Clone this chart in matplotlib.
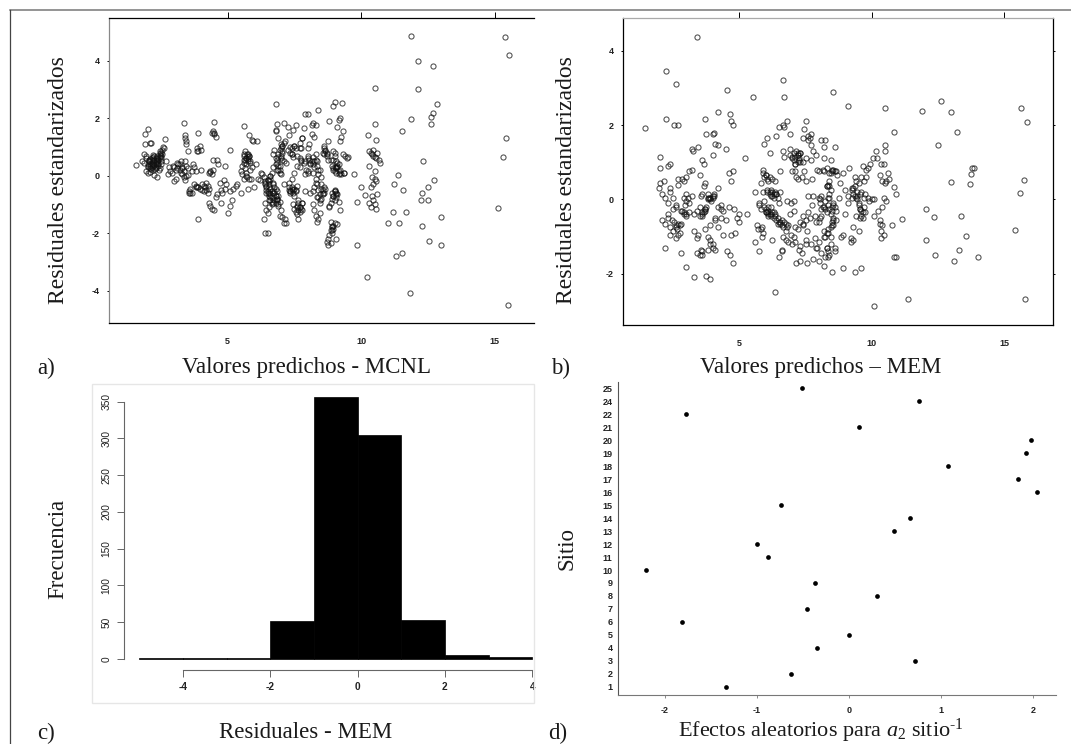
import matplotlib
matplotlib.use('Agg')
import matplotlib.pyplot as plt
from matplotlib.lines import Line2D
from matplotlib.patches import Rectangle

W, H = 1071, 744
SERIF = 'Liberation Serif'
SANS = 'Liberation Sans'

pred_mcnl = [
    1.55, 1.9, 2.03, 2.12, 1.9, 2.1, 1.85, 1.8, 1.85, 1.95, 2.05, 2.15,
    2.0, 2.1, 2.2, 2.3, 2.4, 2.5, 2.55, 2.05, 2.15, 2.25, 2.35, 2.45,
    1.95, 2.0, 2.1, 2.2, 2.3, 2.4, 2.6, 2.65, 2.25, 2.35, 2.4, 2.5,
    2.2, 2.3, 2.45, 2.55, 2.1, 2.15, 2.25, 2.3, 2.35, 2.45, 2.2, 2.5,
    2.75, 2.8, 2.9, 2.95, 3.05, 3.1, 3.2, 3.25, 3.3, 3.35, 3.4, 3.45,
    3.0, 3.1, 3.2, 3.3, 3.4, 3.5, 3.55, 3.6, 3.65, 3.7, 3.75, 3.8,
    3.35, 3.4, 3.42, 3.45, 3.5, 3.85, 3.9, 3.95, 4.0, 3.6, 3.8, 3.9,
    3.85, 3.95, 4.05, 4.1, 4.15, 4.2, 4.25, 4.3, 4.35, 4.4, 4.45, 4.5,
    4.4, 4.45, 4.5, 4.55, 4.6, 4.65, 4.7, 4.75, 4.8, 4.85, 4.9, 4.95,
    4.3, 4.35, 4.42, 4.48, 4.55, 4.6, 4.75, 4.9, 5.1, 5.15, 5.1, 5.0,
    5.1, 5.2, 5.3, 5.35, 5.5, 5.6, 5.6, 5.55, 5.6, 5.65, 5.7, 5.75,
    5.5, 5.55, 5.6, 5.65, 5.7, 5.75, 5.8, 5.85, 5.9, 5.7, 5.8, 5.75,
    5.95, 6.1, 6.05, 6.2, 6.0, 5.75, 5.8, 5.9, 6.15, 6.25, 6.3, 6.35,
    6.4, 6.45, 6.5, 6.55, 6.6, 6.65, 6.4, 6.45, 6.5, 6.55, 6.6, 6.65,
    6.35, 6.4, 6.45, 6.5, 6.55, 6.6, 6.65, 6.7, 6.75, 6.8, 6.85, 6.9,
    6.5, 6.55, 6.6, 6.7, 6.75, 6.8, 6.85, 6.9, 6.95, 7.0, 7.05, 7.1,
    6.7, 6.75, 6.8, 6.85, 6.9, 6.95, 7.0, 7.05, 7.1, 7.15, 6.8, 6.85,
    6.9, 6.95, 7.0, 7.05, 7.1, 7.15, 7.2, 6.95, 7.0, 7.05, 7.1, 6.8,
    7.2, 7.25, 7.3, 7.35, 7.4, 7.45, 7.5, 7.55, 7.6, 7.65, 7.7, 7.75,
    7.3, 7.35, 7.4, 7.45, 7.5, 7.55, 7.6, 7.65, 7.7, 7.75, 7.8, 7.85,
    7.25, 7.3, 7.35, 7.4, 7.5, 7.6, 7.7, 7.8, 7.9, 8.0, 7.45, 7.55,
    7.4, 7.5, 7.6, 7.7, 7.8, 7.9, 8.0, 8.1, 8.2, 7.7, 7.8, 7.9,
    7.9, 8.0, 8.1, 8.2, 8.3, 8.4, 8.0, 8.05, 8.15, 8.25, 8.3, 8.35,
    8.2, 8.25, 8.3, 8.35, 8.4, 8.45, 8.5, 8.55, 8.6, 8.65, 8.7, 8.75,
    8.2, 8.25, 8.3, 8.35, 8.4, 8.45, 8.5, 8.55, 8.6, 8.3, 8.35, 8.4,
    8.6, 8.65, 8.7, 8.75, 8.8, 8.85, 8.9, 8.95, 8.7, 8.75, 8.8, 8.85,
    8.8, 8.85, 8.9, 8.95, 9.0, 9.05, 9.1, 8.85, 8.9, 8.95, 9.0, 8.8,
    8.95, 9.0, 9.05, 9.1, 9.15, 9.2, 9.25, 9.3, 9.35, 9.4, 9.5, 9.45,
    9.0, 9.05, 9.1, 9.15, 9.2, 9.25, 9.3, 9.1, 9.15, 9.2, 8.45, 8.9,
    8.0, 8.15, 8.2, 8.25, 8.6, 8.95, 9.0, 9.05, 9.1, 9.15, 9.2, 9.35,
    10.3, 10.35, 10.4, 10.45, 10.5, 10.55, 10.6, 10.65, 10.7, 10.45, 10.5, 10.55,
    10.4, 10.45, 10.5, 10.55, 10.6, 10.35, 10.3, 10.4, 10.45, 10.5, 10.3, 10.35,
    11.87, 15.4, 15.55, 12.11, 12.67, 10.51, 12.13, 6.8, 12.83, 9.29, 9.02, 8.95,
    15.44, 15.31, 15.14, 15.49, 11.81, 10.21, 9.85, 12.54, 12.99, 11.3, 11.52, 11.0,
    11.42, 11.18, 11.68, 12.29, 13.0, 12.73, 12.49, 12.29, 12.22, 12.49, 12.32, 11.22,
    11.37, 11.55, 11.52, 11.87, 12.69, 12.63, 12.6, 10.51, 10.26, 10.57, 9.85, 10.14,
    9.73, 10.01, 3.9, 6.4, 4.5, 3.4,
    # second pass over the dense clusters
    1.95, 2.0, 2.05, 2.1, 2.15, 2.2, 2.25, 2.3, 2.35, 2.4, 2.45, 2.5,
    2.0, 2.08, 2.12, 2.18, 2.22, 2.28, 2.33, 2.38, 2.42, 2.48, 2.52, 2.58,
    2.7, 2.85, 3.0, 3.05, 3.15, 3.25, 3.3, 3.35, 3.45, 3.5, 3.55, 3.65,
    3.75, 3.8, 3.85, 3.9, 4.0, 4.05, 4.1, 4.2, 4.25, 4.3, 4.35, 4.45,
    5.6, 5.65, 5.7, 5.72, 5.75, 5.78, 5.82, 5.85, 5.68, 5.72, 5.62, 5.88,
    6.4, 6.45, 6.5, 6.5, 6.55, 6.55, 6.6, 6.6, 6.65, 6.65, 6.7, 6.7,
    6.7, 6.75, 6.75, 6.8, 6.8, 6.85, 6.85, 6.9, 6.9, 6.6, 6.55, 6.45,
    6.8, 6.85, 6.9, 6.95, 7.0, 7.05, 7.1, 6.85, 6.9, 6.95, 7.0, 7.05,
    7.3, 7.35, 7.4, 7.45, 7.5, 7.55, 7.35, 7.4, 7.45, 7.5, 7.6, 7.65,
    7.65, 7.7, 7.75, 7.8, 7.55, 7.6, 7.7, 7.75, 7.85, 7.95, 8.0, 8.05,
    8.1, 8.15, 8.2, 8.25, 8.3, 8.35, 8.4, 8.45, 8.5, 8.55, 8.4, 8.45,
    8.5, 8.55, 8.6, 8.65, 8.7, 8.75, 8.9, 8.95, 9.0, 9.05, 9.0, 9.05,
    8.95, 9.0, 9.05, 9.1, 9.15, 9.2, 8.95, 9.0, 9.05, 8.85, 8.9, 8.9,
]
resid_mcnl = [
    0.36, 1.45, 1.62, 1.13, 1.1, 1.13, 0.75, 0.52, 0.45, 0.68, 0.55, 0.4,
    0.3, 0.25, 0.35, 0.45, 0.55, 0.7, 0.9, 0.5, 0.62, 0.7, 0.62, 0.8,
    0.15, 0.08, 0.12, 0.2, 0.28, 0.32, 0.95, 1.27, 0.02, -0.05, 0.4, 0.5,
    0.5, 0.6, 0.65, 0.75, 0.35, 0.45, 0.55, 0.42, 0.5, 0.85, 0.72, 0.42,
    0.05, 0.3, 0.1, 0.35, -0.1, 0.45, 0.2, 0.5, 0.3, 0.15, 0.5, 0.0,
    -0.2, 0.28, 0.4, 0.05, -0.15, 0.02, -0.55, -0.45, -0.6, 0.42, 0.3, 0.18,
    1.85, 1.4, 1.2, 1.1, 0.87, 0.85, 1.5, 1.05, 0.9, -0.6, -0.35, -0.4,
    -0.38, -0.45, -0.3, -0.55, -0.4, -0.5, -0.35, 0.1, 0.15, 0.05, 0.2, 1.88,
    1.5, 1.55, 1.45, 1.35, 0.55, 0.4, -0.25, -0.5, -0.6, -0.15, -0.45, -0.3,
    -0.95, -1.05, -1.15, -1.2, -0.75, -0.65, -0.95, 0.35, 0.9, -0.85, -1.05, -1.3,
    -0.55, -0.45, -0.35, -0.3, -0.6, 1.72, 0.55, 0.35, 0.75, 0.85, 0.6, 0.5,
    0.15, 0.05, -0.1, 0.25, 0.4, 0.65, 0.7, 0.45, 0.3, 0.0, -0.1, 0.75,
    1.2, 1.22, 0.4, -0.15, -0.4, -0.45, 1.4, 1.25, -0.1, 0.1, 0.05, -0.05,
    -0.2, -0.35, -0.55, -0.7, -0.85, -1.0, -0.95, -1.2, -1.3, -1.1, 0.0, 0.1,
    -1.5, -0.3, -0.5, -0.15, -0.4, -0.65, -0.9, -0.25, -0.6, -0.45, -0.8, -1.05,
    -2.0, -0.6, -0.75, 0.3, -0.55, -0.7, -0.85, -1.0, -0.9, -1.2, -1.45, -1.65,
    0.75, 0.9, 0.6, 0.45, 0.65, 0.35, 1.1, 0.8, 0.5, 1.2, 1.55, 1.8,
    1.3, 0.2, 0.05, 0.55, -0.3, -1.5, -1.65, -1.4, 0.7, 1.05, 1.85, 1.6,
    0.45, 1.7, 1.4, 1.0, 0.75, -0.5, -0.45, -0.55, -1.35, -1.5, 0.6, 0.95,
    -0.5, -0.6, -0.45, -1.0, -1.15, -1.25, -1.1, -0.85, 0.3, 0.55, 1.3, 1.65,
    0.9, -0.25, -0.55, 0.75, 1.05, 0.35, -1.25, -0.95, -0.55, 0.15, 1.6, 1.75,
    -0.1, 0.1, -0.35, -1.1, -1.2, 0.05, 0.1, -0.6, 0.4, 0.95, 1.3, 2.15,
    0.5, 0.7, 0.4, 1.85, 1.75, 2.3, 0.95, 1.1, 1.45, 1.35, 0.55, 0.35,
    -0.55, -0.4, -0.25, -0.75, 0.05, 0.2, -0.05, -0.5, -0.6, -0.45, 0.8, 1.2,
    -1.0, -1.2, -1.4, -1.6, -1.5, -1.3, -0.8, -0.65, -0.4, 0.75, 0.5, 0.2,
    1.05, 0.9, -2.3, -2.2, -2.05, -2.35, -1.9, -1.75, 0.75, -2.4, -1.1, 0.55,
    1.9, -1.6, -1.8, -1.85, -1.65, -2.2, -1.7, -0.95, -0.8, -0.7, -0.55, -1.05,
    0.85, 0.7, 0.5, 0.3, 0.15, 0.1, 0.05, 0.75, 0.1, 0.7, 0.65, 0.6,
    -0.55, -0.75, -0.65, -0.9, 1.2, 1.35, 1.55, 1.7, 1.95, 2.0, -0.85, 0.35,
    2.15, 1.75, 0.65, 0.5, 0.75, 0.25, 0.15, 0.3, 0.45, 0.05, -1.2, 0.1,
    0.85, 0.8, 0.75, 0.7, 0.65, 0.6, 0.78, 0.55, 0.45, 0.9, -0.1, -0.2,
    -0.7, -0.85, -1.0, -1.15, -0.65, -1.1, 0.35, -0.05, -0.3, 0.15, -0.95, -0.4,
    4.85, 4.83, 4.21, 4.0, 3.83, 3.05, 3.03, 2.49, 2.48, 2.52, 2.56, 2.43,
    1.31, 0.66, -1.13, -4.49, -4.07, -3.53, -2.41, -2.27, -2.42, -2.8, -2.71, -1.64,
    -1.66, -1.28, -1.27, -1.76, -1.43, -0.16, -0.38, -0.59, -0.86, -0.83, 0.52, -0.29,
    0.02, -0.5, 1.55, 1.98, 2.17, 2.06, 1.79, 1.79, 1.43, 1.24, -0.91, -0.67,
    0.06, -0.38, -1.52, -2.0, 1.5, 1.3,
    # second pass over the dense clusters
    0.62, 0.42, 0.5, 0.58, 0.3, 0.42, 0.38, 0.5, 0.68, 0.58, 0.72, 0.6,
    0.35, 0.4, 0.22, 0.55, 0.65, 0.22, 0.3, 0.45, 0.2, 0.28, 0.8, 1.0,
    0.5, 0.15, 0.3, 0.2, 0.42, 0.1, 0.25, -0.05, 0.35, 0.25, -0.6, 0.15,
    -0.3, -0.4, 0.95, 0.85, 0.2, -0.5, -0.35, -0.25, -0.6, -0.45, 0.12, 0.55,
    0.68, 0.55, 0.62, 0.75, 0.58, 0.68, 0.52, 0.2, 0.1, -0.05, 0.45, -0.12,
    -0.25, -0.4, -0.15, -0.6, -0.3, -0.85, -0.1, -0.45, -0.55, -0.75, -0.3, -0.95,
    -0.6, -0.4, -0.85, -0.7, -0.95, -0.55, -0.8, -0.7, 0.2, 0.0, -0.2, -0.6,
    0.4, 0.55, 0.75, 0.9, 0.95, 1.05, 1.15, 0.2, 0.35, 0.1, 0.6, 0.85,
    -0.4, -0.55, -0.4, -0.6, -0.7, -0.5, 0.8, 0.95, 0.65, 1.05, -1.05, -1.2,
    -0.95, -1.1, -1.15, -0.95, 0.95, 0.7, 1.15, 0.5, 0.45, 0.2, 0.6, 0.55,
    0.45, 0.5, 0.1, 0.3, -0.1, -0.3, -0.5, -0.65, -0.45, -0.6, -0.75, -0.95,
    -0.3, 0.8, 0.95, 0.85, 0.7, 0.55, -0.6, -0.7, -0.85, -0.65, -0.5, -0.6,
    0.2, 0.3, 0.25, 0.35, 0.4, 0.2, 0.55, 0.8, 0.1, -1.9, -1.75, -2.0,
]

# panel b
pred_mem = [
    1.45, 3.4, 2.25, 2.6, 2.25, 2.55, 2.7, 2.0, 4.55, 5.5, 6.65, 6.7,
    8.55, 9.1, 10.5, 11.9, 12.6, 13.0, 15.65, 15.85, 13.2, 12.5, 15.75, 13.0,
    13.7, 13.75, 13.8, 15.6, 12.05, 12.35, 13.35, 15.4, 13.85, 13.55, 12.05, 13.3,
    12.4, 13.1, 14.0, 15.8, 11.35, 10.1, 6.35, 9.6, 9.35, 8.9, 8.5, 8.2,
    10.85, 10.5, 10.85, 11.15, 10.75, 10.9, 10.85, 10.9, 4.2, 3.7, 4.05, 3.45,
    3.0, 3.3, 3.75, 3.9, 4.0, 4.1, 4.65, 4.7, 4.75, 5.2, 3.2, 3.25,
    4.0, 3.75, 4.2, 4.5, 3.6, 3.65, 4.6, 2.0, 2.15, 1.95, 2.3, 2.0,
    2.1, 2.2, 2.3, 2.4, 2.5, 2.6, 2.7, 2.8, 2.9, 3.0, 3.1, 3.2,
    2.1, 2.2, 2.3, 2.4, 2.5, 2.6, 2.7, 2.8, 2.9, 3.0, 3.1, 3.2,
    2.2, 2.3, 2.4, 2.5, 2.6, 2.7, 2.8, 2.9, 3.0, 3.1, 2.4, 2.6,
    3.3, 3.4, 3.5, 3.55, 3.6, 3.7, 3.8, 3.9, 4.0, 4.05, 3.3, 3.45,
    3.4, 3.5, 3.6, 3.7, 3.8, 3.9, 4.0, 4.1, 4.2, 4.3, 4.4, 4.5,
    3.6, 3.7, 3.8, 3.9, 4.0, 4.1, 4.2, 4.3, 4.4, 4.6, 4.7, 4.8,
    3.4, 3.5, 3.55, 3.6, 4.75, 4.9, 5.0, 4.85, 4.55, 4.65, 2.4, 2.85,
    3.0, 3.5, 3.65, 3.8, 4.2, 4.3, 4.7, 4.75, 5.0, 5.3, 3.9, 4.1,
    5.6, 5.65, 5.75, 5.8, 5.9, 5.95, 6.0, 6.05, 6.1, 6.15, 6.2, 6.25,
    5.75, 5.8, 5.85, 5.9, 6.0, 6.05, 6.1, 6.15, 6.2, 6.25, 6.3, 6.35,
    5.75, 5.8, 5.9, 6.0, 6.1, 6.2, 6.3, 6.35, 6.4, 6.45, 6.5, 6.55,
    5.6, 5.7, 5.85, 5.95, 6.05, 6.15, 6.25, 6.4, 6.5, 6.55, 6.6, 6.65,
    6.5, 6.6, 6.65, 6.7, 6.75, 6.8, 6.85, 6.9, 6.95, 7.0, 7.05, 7.1,
    6.6, 6.7, 6.8, 6.9, 7.0, 7.1, 7.2, 7.3, 7.4, 7.5, 7.6, 7.7,
    6.9, 7.0, 7.05, 7.1, 7.15, 7.2, 7.25, 7.3, 7.35, 7.4, 7.45, 7.5,
    6.9, 7.0, 7.1, 7.2, 7.3, 7.4, 7.5, 7.6, 7.7, 7.8, 7.9, 8.0,
    7.15, 7.25, 7.35, 7.45, 7.55, 7.65, 7.75, 7.85, 7.95, 8.05, 8.15, 8.25,
    7.2, 7.3, 7.4, 7.5, 7.55, 7.6, 7.7, 7.8, 7.9, 8.0, 8.1, 8.2,
    7.5, 7.6, 7.65, 7.7, 7.75, 7.8, 7.85, 7.9, 7.95, 8.0, 8.05, 8.1,
    8.0, 8.1, 8.2, 8.25, 8.3, 8.35, 8.4, 8.45, 8.5, 8.55, 8.6, 8.65,
    8.0, 8.1, 8.2, 8.25, 8.3, 8.35, 8.4, 8.45, 8.5, 8.55, 8.6, 8.65,
    8.15, 8.2, 8.3, 8.35, 8.4, 8.45, 8.5, 8.55, 8.6, 8.7, 8.75, 8.85,
    8.8, 8.9, 9.0, 9.1, 9.15, 9.2, 9.25, 9.3, 9.35, 9.4, 9.45, 9.5,
    8.9, 9.0, 9.1, 9.2, 9.25, 9.3, 9.35, 9.4, 9.5, 9.55, 9.6, 9.65,
    9.5, 9.55, 9.6, 9.7, 9.75, 9.8, 9.85, 9.9, 9.95, 10.0, 10.05, 10.1,
    10.15, 10.2, 10.3, 10.35, 10.4, 10.45, 10.5, 10.55, 10.6, 10.65, 10.3, 10.4,
    10.3, 10.35, 10.4, 10.45, 10.35, 10.45, 10.5, 10.55, 10.1, 10.25, 9.3, 9.55,
    # second pass over the dense clusters
    2.45, 2.55, 2.6, 2.65, 2.7, 2.75, 2.75, 2.85, 2.9, 2.95, 3.0, 3.05,
    3.6, 3.65, 3.7, 3.75, 3.8, 3.85, 3.9, 3.95, 4.0, 4.05, 3.6, 3.7,
    5.9, 5.95, 6.0, 6.05, 6.1, 6.15, 6.2, 6.25, 6.3, 6.35, 6.4, 6.45,
    5.95, 6.0, 6.05, 6.1, 6.15, 6.2, 6.25, 6.3, 6.35, 6.4, 6.45, 6.5,
    6.55, 6.6, 6.65, 6.7, 6.75, 6.8, 6.55, 6.65, 6.75, 6.85, 6.95, 7.05,
    7.05, 7.1, 7.15, 7.2, 7.25, 7.3, 7.05, 7.1, 7.2, 7.3, 7.4, 7.5,
    8.05, 8.1, 8.2, 8.25, 8.3, 8.35, 8.4, 8.45, 8.5, 8.55, 8.6, 8.65,
    8.2, 8.25, 8.3, 8.35, 8.4, 8.45, 8.5, 8.55, 8.3, 8.35, 8.4, 8.45,
    8.4, 8.45, 8.5, 8.55, 8.6, 8.3, 8.35, 9.25, 9.3, 9.35, 9.4, 9.45,
    9.45, 9.5, 9.55, 9.6, 9.65, 9.7, 9.6, 9.65, 9.7, 9.75, 9.8, 9.85,
]
resid_mem = [
    1.93, 4.37, 3.46, 3.1, 2.16, 2.0, 2.0, 1.15, 2.95, 2.75, 3.2, 2.75,
    2.88, 2.5, 2.47, 2.37, 2.65, 2.35, 2.47, 2.08, 1.8, 1.47, 0.52, 0.47,
    0.42, 0.68, 0.85, 0.16, -0.27, -0.47, -0.44, -0.82, 0.85, -0.98, -1.08, -1.35,
    -1.5, -1.65, -1.55, -2.67, -2.67, -2.87, -2.5, -1.85, -1.95, -1.85, -1.95, -1.8,
    1.8, 1.45, 0.33, -0.53, -0.7, 0.15, -1.55, -1.55, 2.35, 2.15, 1.78, 1.4,
    -1.83, -2.1, -2.05, -2.15, 1.75, 1.5, 2.3, 2.1, 2.0, 1.1, 1.35, 1.3,
    1.2, 1.75, 1.45, 1.35, 1.05, 0.95, 0.7, 0.85, 0.5, 0.3, 0.9, 0.45,
    0.15, 0.05, -0.1, 0.3, 0.05, -0.2, 0.4, -0.3, 0.5, -0.05, 0.75, 0.8,
    -0.55, -0.65, -0.5, -0.75, -0.85, -0.7, -0.95, -0.65, -0.4, -0.45, -0.35, 0.1,
    -1.3, -0.4, 0.2, -0.25, -0.15, 0.55, -1.45, 0.05, 0.15, -0.1, -0.95, -1.05,
    -0.4, -0.3, -0.2, 0.1, 0.15, 0.45, 0.0, 0.05, 0.1, 0.15, -0.85, -0.95,
    -1.05, -0.45, -0.35, -0.25, -1.35, -1.1, -1.2, -0.5, -0.2, -0.25, -0.3, -0.55,
    -1.5, -0.8, -1.0, -1.2, -1.3, -1.35, -0.75, -0.5, -0.95, -0.2, 0.5, -0.25,
    -1.45, -1.5, -1.35, -1.4, -1.7, -0.5, -0.6, -0.9, -1.4, -1.5, 0.95, 0.55,
    0.6, 0.65, 0.35, 0.05, 0.3, -0.15, -0.95, 0.75, -0.4, -0.4, -0.7, -0.55,
    0.2, -0.7, -0.15, -0.8, 0.8, -0.05, 0.65, 0.25, -0.4, 0.6, 0.1, 0.55,
    -1.4, 0.45, -0.75, 0.2, -0.35, 0.2, -0.45, 0.15, -0.2, 0.2, -0.35, 0.5,
    -0.1, -0.25, -0.9, -0.35, -0.2, -0.4, 0.05, -0.45, 0.15, -0.5, -0.1, -0.6,
    -1.15, -0.8, -1.0, 1.5, 1.65, 1.25, -1.1, 1.7, 1.95, 0.2, -0.55, 2.0,
    -1.55, -1.35, 1.3, 1.15, -0.65, 2.1, -0.7, 1.2, -0.95, -1.2, -1.0, 0.75,
    -1.4, 1.95, -0.05, 1.35, 1.15, -1.15, 0.55, 1.25, 1.65, 2.1, 1.6, 1.75,
    1.75, 1.1, -0.3, 0.95, 0.6, 1.2, 1.05, -0.6, 0.6, -0.65, 1.9, 1.1,
    -0.4, 0.75, -0.75, 1.25, -1.25, -0.7, -1.2, 1.7, 1.45, 0.1, 1.2, -1.65,
    -1.7, -1.35, -1.45, 0.75, -1.7, 1.65, 0.55, -0.45, -1.3, -0.5, 0.8, 1.6,
    -0.8, -1.65, 1.0, -1.1, -0.85, -0.35, -1.2, -1.6, -1.3, 0.05, -1.45, 1.4,
    0.5, 0.1, -0.5, 1.05, -0.15, 1.3, -1.05, -0.6, 0.8, -1.15, 0.0, -0.45,
    0.75, 1.6, 1.1, -1.55, -1.3, -0.9, 0.7, 1.05, 0.8, -0.15, 1.4, -0.3,
    -0.6, 0.1, -1.0, -0.25, 0.35, -0.8, 0.05, -1.0, -0.7, -0.1, -1.3, 0.75,
    -0.2, 0.75, 0.85, -1.55, 0.35, -0.75, -0.2, -0.55, -1.4, 0.65, 0.05, -1.0,
    0.45, 0.7, -0.4, 0.1, 0.85, -1.15, 0.3, -0.75, 0.6, -0.45, 0.2, 0.45,
    -0.95, 0.25, -0.1, -1.05, 0.05, -1.1, 0.1, 0.5, -0.85, -0.25, 0.6, 0.9,
    -0.1, -0.5, 0.2, 0.05, -0.35, 0.8, 0.05, -0.05, 0.95, 0.0, 1.1, -0.45,
    1.3, 1.1, -0.65, 0.95, -0.7, 0.05, 0.45, -0.05, 0.7, 0.55, 0.65, -0.2,
    -0.55, -0.85, 0.5, -0.95, -1.05, 0.95, 1.3, 0.5, 0.0, -0.3, 0.3, 0.15,
    # second pass over the dense clusters
    -0.55, -0.6, -0.75, -0.8, -0.65, -0.9, -0.7, -0.3, -0.35, -0.15, -0.4, 0.05,
    -0.45, -0.35, -0.3, -0.2, 0.15, 0.05, 0.0, -0.05, 0.05, 0.1, -0.4, -0.25,
    0.7, 0.6, 0.65, 0.55, 0.5, 0.2, 0.25, 0.1, 0.15, 0.2, 0.15, 0.05,
    -0.2, -0.25, -0.35, -0.3, -0.4, -0.45, -0.35, -0.5, -0.4, -0.55, -0.65, -0.6,
    -0.65, -0.7, -0.75, -0.6, -0.85, -0.75, 0.75, -1.0, -1.1, -1.15, -0.1, -0.05,
    1.25, 1.15, 1.3, 1.2, 1.1, 1.0, 1.05, 0.95, 1.0, 1.25, -0.45, -0.55,
    -0.1, -0.25, -0.2, -0.05, -0.35, -0.15, -0.25, -0.4, -0.3, -0.5, -0.2, -0.55,
    -0.85, -1.0, -1.3, -1.4, -1.5, -1.2, -0.6, -0.7, -0.9, 0.05, 0.15, 0.25,
    0.5, 0.7, 0.75, 0.8, 0.75, 0.35, 0.4, 0.25, 0.15, 0.35, 0.05, 0.1,
    0.0, -0.15, -0.25, -0.3, -0.35, -0.2, -0.45, -0.5, 0.5, 0.15, 0.6, 0.85,
]

# panel c, histogram of residuals
bin_edges = [-5, -4, -3, -2, -1, 0, 1, 2, 3, 4]
bin_counts = [1, 1, 2, 51, 356, 304, 53, 5, 3]

# panel d, site random effects (there is no site 23)
sitios = ['1', '2', '3', '4', '5', '6', '7', '8', '9', '10', '11', '12',
          '13', '14', '15', '16', '17', '18', '19', '20', '21', '22', '24', '25']
efectos = [-1.333, -0.634, 0.717, -0.344, 0.0, -1.815, -0.457, 0.31, -0.37, -2.206, -0.885, -1.0,
           0.49, 0.667, -0.735, 2.04, 1.84, 1.08, 1.92, 1.98, 0.11, -1.775, 0.76, -0.51]


def px_axes(fig, left, top, right, bottom):
    # axes placed from reference pixel edges
    return fig.add_axes([left / W, 1 - bottom / H, (right - left) / W, (bottom - top) / H])


def tick_font(ax, size=6.5):
    for lab in ax.get_xticklabels() + ax.get_yticklabels():
        lab.set_family(SANS)
        lab.set_fontweight('bold')
        lab.set_fontsize(size)
        lab.set_color('#222222')


def scatter_panel(ax, x, y, xlim, ylim, yticks):
    ax.plot(x, y, linestyle='none', marker='o', markersize=3.7, markerfacecolor='none',
            markeredgecolor='#111111', markeredgewidth=0.75, alpha=0.75)
    ax.set_xlim(*xlim)
    ax.set_ylim(*ylim)
    ax.set_xticks([5, 10, 15])
    ax.set_yticks(yticks)
    ax.tick_params(axis='x', which='both', top=True, bottom=False, direction='out', length=4, width=0.7, pad=6)
    ax.tick_params(axis='y', length=1.5, width=0.7, pad=5)
    for spine in ax.spines.values():
        spine.set_linewidth(0.9)
    tick_font(ax)


def label(fig, x, y, text, size=16.5, **kw):
    fig.text(x / W, 1 - y / H, text, family=SERIF, fontsize=size, color='#1a1a1a',
             ha='center', va='center', **kw)


def plot():
    plt.rcParams['mathtext.fontset'] = 'custom'
    plt.rcParams['mathtext.rm'] = SERIF
    plt.rcParams['mathtext.it'] = SERIF + ':italic'
    plt.rcParams['axes.unicode_minus'] = False
    fig = plt.figure(figsize=(W / 100, H / 100), dpi=100)

    # page rule, left page border and the pale box of the histogram image
    fig.add_artist(Line2D([9.5 / W, 1], [1 - 10 / H, 1 - 10 / H], color='#777777', linewidth=1.1))
    fig.add_artist(Line2D([9.5 / W, 9.5 / W], [1 - 10 / H, 0], color='#444444', linewidth=0.9))
    fig.add_artist(Rectangle((92 / W, 1 - 703 / H), (534 - 92) / W, (703 - 384) / H, transform=fig.transFigure,
                             facecolor='none', edgecolor='#e6e6e6', linewidth=1))

    ax_a = px_axes(fig, 109, 18, 534, 323)
    scatter_panel(ax_a, pred_mcnl, resid_mcnl, (0.555, 16.47), (-5.13, 5.49), [-4, -2, 0, 2, 4])
    ax_a.spines['right'].set_visible(False)
    ax_a.spines['left'].set_color('#888888')

    ax_b = px_axes(fig, 623, 18, 1053, 325)
    scatter_panel(ax_b, pred_mem, resid_mem, (0.61, 16.84), (-3.38, 4.88), [-2, 0, 2, 4])
    ax_b.tick_params(axis='y', right=True)
    ax_b.spines['top'].set_color('#aaaaaa')
    ax_b.xaxis.get_major_ticks()[2].tick2line.set_color('#bbbbbb')

    ax_c = px_axes(fig, 124, 384, 534, 670)
    ax_c.patch.set_alpha(0)
    ax_c.bar(bin_edges[:-1], bin_counts, width=1, align='edge', color='black', edgecolor='black', linewidth=0.5)
    ax_c.set_xlim(-5.35, 4.04)
    ax_c.set_ylim(-15, 374)
    ax_c.spines[['top', 'right']].set_visible(False)
    ax_c.spines['left'].set_bounds(0, 350)
    ax_c.spines['bottom'].set_bounds(-4, 4)
    ax_c.spines['left'].set_color('#666666')
    ax_c.spines['bottom'].set_color('#666666')
    ax_c.set_xticks([-4, -2, 0, 2, 4])
    ax_c.set_yticks([0, 50, 100, 150, 200, 250, 300, 350])
    ax_c.tick_params(axis='both', length=5, width=0.7, color='#666666', pad=4)
    tick_font(ax_c, 7.3)
    for lab in ax_c.get_yticklabels():
        lab.set_rotation(90)
        lab.set_va('center')
        lab.set_fontweight('normal')

    ax_d = px_axes(fig, 618, 382, 1056, 695)
    ax_d.plot(efectos, range(len(sitios)), linestyle='none', marker='o', markersize=3.4,
              markeredgewidth=0, color='black')
    ax_d.set_xlim(-2.51, 2.25)
    ax_d.set_ylim(-0.64, 23.5)
    ax_d.spines[['top', 'right']].set_visible(False)
    ax_d.spines['left'].set_color('#555555')
    ax_d.spines['bottom'].set_color('#777777')
    ax_d.set_xticks([-2, -1, 0, 1, 2])
    ax_d.set_yticks(range(len(sitios)))
    ax_d.set_yticklabels(sitios)
    ax_d.tick_params(axis='x', length=2, width=0.6, pad=6, color='#777777')
    ax_d.tick_params(axis='y', length=0, pad=4)
    tick_font(ax_d)

    label(fig, 46, 368, 'a)')
    label(fig, 306, 368, 'Valores predichos - MCNL')
    label(fig, 561, 368, 'b)')
    label(fig, 821, 368, 'Valores predichos – MEM')
    label(fig, 46, 733, 'c)')
    label(fig, 306, 733, 'Residuales - MEM')
    label(fig, 558, 733, 'd)')
    label(fig, 821, 731, r'Efectos aleatorios para $\mathit{a}_{2}$ sitio$^{\text{-1}}$', size=16)
    label(fig, 59, 180, 'Residuales estandarizados', size=17, rotation=90)
    label(fig, 567, 180, 'Residuales estandarizados', size=17, rotation=90)
    label(fig, 58, 549, 'Frecuencia', rotation=90)
    label(fig, 567, 549, 'Sitio', rotation=90)

    fig.savefig('out.png', dpi=100)
    plt.close(fig)


if __name__ == "__main__":
    plot()
